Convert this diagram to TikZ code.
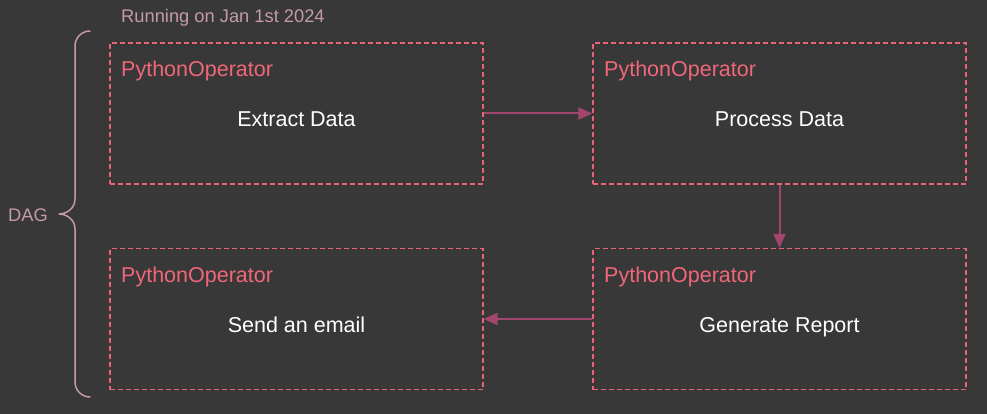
\documentclass[tikz,border=0pt]{standalone}
\usepackage{fontspec}
\setmainfont{Liberation Sans}
\usetikzlibrary{arrows.meta}
\definecolor{bg}{HTML}{383838}
\definecolor{opred}{HTML}{F0677A}
\definecolor{dashred}{HTML}{EA6479}
\definecolor{flowc}{HTML}{A0466F}
\definecolor{bracec}{HTML}{C49AAB}
\tikzset{
  opbox/.style={draw=dashred, line width=1.2pt, dash pattern=on 5pt off 3pt,
    minimum width=373pt, minimum height=141pt, inner sep=0pt},
  optype/.style={text=opred, anchor=base west, inner sep=0pt,
    font=\fontsize{21.5}{24}\selectfont},
  optask/.style={text=white, anchor=base, inner sep=0pt,
    font=\fontsize{21.5}{24}\selectfont},
  flow/.style={draw=flowc, line width=2pt,
    -{Triangle[length=14pt,width=12pt]}},
  bracelbl/.style={text=bracec, inner sep=0pt,
    font=\fontsize{18.3}{22}\selectfont},
  dagbrace/.style={draw=bracec, line width=1.5pt, line cap=round}
}
\begin{document}
\begin{tikzpicture}[x=1pt,y=-1pt]
  \fill[bg] (0,0) rectangle (987,414);
  \useasboundingbox (0,0) rectangle (987,414);

  % run date
  \node[bracelbl, anchor=base west] (rundate) at (121,23) {Running on Jan 1st 2024};

  % task boxes
  \node[opbox] (extract) at (296.5,113.5) {};
  \node[opbox] (process) at (779.5,113.5) {};
  \node[opbox] (report)  at (779.5,319) {};
  \node[opbox] (email)   at (296.5,319) {};

  % operator types
  \node[optype] (extractop) at (121,77)  {PythonOperator};
  \node[optype] (processop) at (604,77)  {PythonOperator};
  \node[optype] (reportop)  at (604,282) {PythonOperator};
  \node[optype] (emailop)   at (121,282) {PythonOperator};

  % task names
  \node[optask] (extractname) at (296.5,127) {Extract Data};
  \node[optask] (processname) at (779.5,127) {Process Data};
  \node[optask] (reportname)  at (779.5,332) {Generate Report};
  \node[optask] (emailname)   at (296.5,332) {Send an email};

  % dependencies
  \draw[flow] (extract.east) -- (process.west);
  \draw[flow] (process.south) -- (report.north);
  \draw[flow] (report.west) -- (email.east);

  % brace grouping the DAG
  \coordinate (btop) at (90,31);
  \coordinate (bmid) at (59,214);
  \coordinate (bbot) at (90,397);
  \draw[dagbrace] (btop) arc[start angle=90, end angle=180, radius=15pt]
    -- (75,199) .. controls (75,209) and (66,214) .. (bmid)
    .. controls (66,214) and (75,219) .. (75,229)
    -- (75,382) arc[start angle=180, end angle=270, radius=15pt];
  \node[bracelbl, anchor=base west] (dag) at (8,221) {DAG};
\end{tikzpicture}
\end{document}
